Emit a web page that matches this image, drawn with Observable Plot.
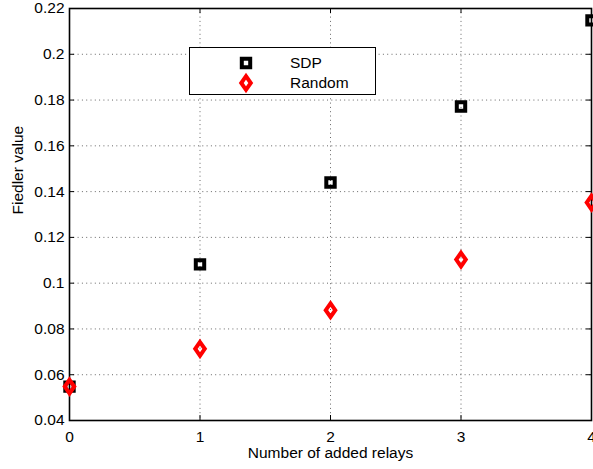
<!DOCTYPE html>
<html>
<head>
<meta charset="utf-8">
<script src="https://cdn.jsdelivr.net/npm/d3@7"></script>
<script src="https://cdn.jsdelivr.net/npm/@observablehq/plot@0.6"></script>
<style>
  html, body { margin: 0; padding: 0; background: #fff; }
  #chart { position: relative; width: 593px; height: 469px; font-family: "Liberation Sans", Arial, Helvetica, sans-serif; }
  #legend {
    position: absolute; left: 189px; top: 47px; width: 187px; height: 48px;
    box-sizing: border-box; border: 1.6px solid #000; background: #fff;
  }
  #legend .row { position: absolute; left: 0; height: 20px; width: 100%; }
  #legend svg { position: absolute; left: 44px; top: 0; }
  #legend span { position: absolute; left: 100px; top: 0; line-height: 20px; font-size: 15.5px; color: #000; }
</style>
</head>
<body>
<div id="chart"></div>
<script>
// Fiedler value of the network versus number of added relays
const relays = [0, 1, 2, 3, 4];
const sdpValues = [0.0548, 0.1082, 0.1440, 0.1772, 0.2148];
const randomValues = [0.0548, 0.0713, 0.0882, 0.1103, 0.1352];

const xTicks = [0, 1, 2, 3, 4];
const yTicks = [0.04, 0.06, 0.08, 0.1, 0.12, 0.14, 0.16, 0.18, 0.2, 0.22];
const yTickLabels = ["0.04", "0.06", "0.08", "0.1", "0.12", "0.14", "0.16", "0.18", "0.2", "0.22"];

const seriesNames = ["SDP", "Random"];
const seriesColors = ["#000000", "#ff0000"];

const xLabel = "Number of added relays";
const yLabel = "Fiedler value";

// layout
const W = 593, H = 469;
const mL = 69, mR = 2, mT = 8, mB = 49;
const frameW = W - mL - mR, frameH = H - mT - mB;
const tickLen = 5;
const fontSize = 15.5;
const font = '"Liberation Sans", Arial, Helvetica, sans-serif';

// open square and tall diamond markers (radius = half extent of the path)
const squareSymbol = {
  draw(context, size) {
    const s = Math.sqrt(size / Math.PI);
    context.moveTo(-s, -s); context.lineTo(s, -s); context.lineTo(s, s); context.lineTo(-s, s); context.closePath();
  }
};
const diamondSymbol = {
  draw(context, size) {
    const h = Math.sqrt(size / Math.PI), w = 0.7 * h;
    context.moveTo(0, -h); context.lineTo(w, 0); context.lineTo(0, h); context.lineTo(-w, 0); context.closePath();
  }
};
const markerStyle = [
  {symbol: squareSymbol, r: 4.2, strokeWidth: 4},
  {symbol: diamondSymbol, r: 6.8, strokeWidth: 4}
];

const gridStyle = {stroke: "#000", strokeOpacity: 0.6, strokeWidth: 1, strokeDasharray: "1,3.3"};

const plot = Plot.plot({
  width: W, height: H,
  marginLeft: mL, marginRight: mR, marginTop: mT, marginBottom: mB,
  style: {fontFamily: font, fontSize: fontSize + "px", color: "#000", background: "#fff", overflow: "visible"},
  x: {domain: [0, 4], label: null},
  y: {domain: [0.04, 0.22], label: null},
  marks: [
    Plot.gridX(xTicks.slice(1, -1), gridStyle),
    Plot.gridY(yTicks.slice(1, -1), gridStyle),
    // inward ticks on all four sides
    Plot.tickX(xTicks, {x: d => d, stroke: "#000", insetTop: frameH - tickLen}),
    Plot.tickX(xTicks, {x: d => d, stroke: "#000", insetBottom: frameH - tickLen}),
    Plot.tickY(yTicks, {y: d => d, stroke: "#000", insetRight: frameW - tickLen}),
    Plot.tickY(yTicks, {y: d => d, stroke: "#000", insetLeft: frameW - tickLen}),
    Plot.frame({stroke: "#000", strokeWidth: 1.6}),
    Plot.axisX(xTicks, {anchor: "bottom", tickSize: 0, tickPadding: 10, tickFormat: d => String(d), fontSize, label: null}),
    Plot.axisY(yTicks, {anchor: "left", tickSize: 0, tickPadding: 5, tickFormat: (d, i) => yTickLabels[i], fontSize, label: null}),
    Plot.text([xLabel], {frameAnchor: "bottom", text: d => d, dy: 33, lineAnchor: "middle", fontSize, fill: "#000"}),
    Plot.text([yLabel], {frameAnchor: "left", text: d => d, dx: -51, rotate: -90, lineAnchor: "middle", fontSize, fill: "#000"}),
    Plot.dot(relays, {x: d => d, y: (d, i) => sdpValues[i], ...markerStyle[0], stroke: seriesColors[0], fill: "none"}),
    Plot.dot(relays, {x: d => d, y: (d, i) => randomValues[i], ...markerStyle[1], stroke: seriesColors[1], fill: "none"})
  ]
});

const chart = document.getElementById("chart");
chart.appendChild(plot);

// legend box
const legend = document.createElement("div");
legend.id = "legend";
const rowTops = [5, 25];
seriesNames.forEach((name, i) => {
  const row = document.createElement("div");
  row.className = "row";
  row.style.top = rowTops[i] + "px";
  const svg = d3.create("svg").attr("width", 24).attr("height", 26).style("top", "-3px").style("overflow", "visible");
  const p = d3.path();
  const st = markerStyle[i];
  st.symbol.draw(p, Math.PI * st.r * st.r);
  svg.append("path")
    .attr("transform", "translate(12,13)")
    .attr("d", p.toString())
    .attr("fill", "none")
    .attr("stroke", seriesColors[i])
    .attr("stroke-width", st.strokeWidth);
  row.appendChild(svg.node());
  const label = document.createElement("span");
  label.textContent = name;
  row.appendChild(label);
  legend.appendChild(row);
});
chart.appendChild(legend);
</script>
</body>
</html>
